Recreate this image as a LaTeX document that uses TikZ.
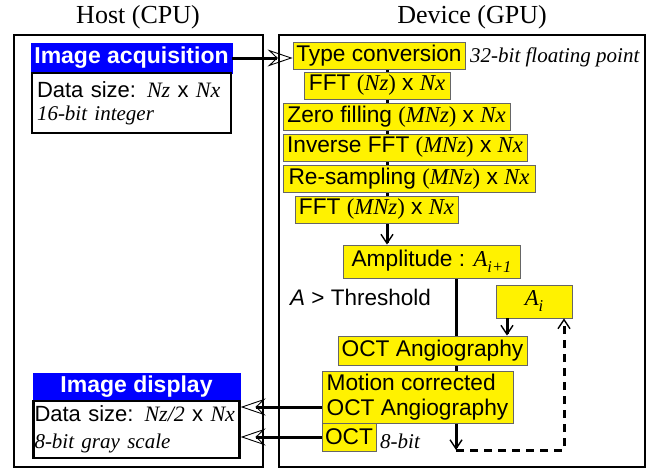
\documentclass[tikz,border=0pt]{standalone}
\usepackage{fontspec}
\setmainfont{Liberation Sans}
\newfontfamily\tnr{Liberation Serif}
\usetikzlibrary{arrows.meta,backgrounds}
\newcommand\itv[1]{{\tnr\itshape #1}}
\newcommand\idx[1]{\raisebox{-6pt}{\fontsize{16.5}{17}\selectfont\itv{#1}}}
\newcommand\notefont{\fontsize{21}{23}\selectfont\tnr\itshape}

\begin{document}
\begin{tikzpicture}[
                x=1pt, y=-1pt,
                frame/.style={draw, line width=2pt},
                proc/.style={
                  draw=black!60,
                  fill=yellow,
                  line width=0.9pt,
                  inner sep=2pt,
                  font=\fontsize{22.7}{25}\selectfont,
                },
                head/.style={
                  fill=blue,
                  draw=blue,
                  text=white,
                  font=\fontsize{23}{25}\selectfont\bfseries,
                },
                info/.style={
                  draw,
                  fill=white,
                  line width=2.4pt,
                  align=left,
                  font=\fontsize{22}{24}\selectfont,
                },
                note/.style={inner sep=1pt, font=\notefont},
                title/.style={font=\fontsize{26}{28}\selectfont\tnr},
                flow/.style={line width=3pt},
                >={Straight Barb[length=9pt,width=12pt,line width=1.4pt]},
                big/.tip={Stealth[open,length=25pt,width=17pt,inset=9pt,line width=0.9pt]},
              ]
              \useasboundingbox (0,0) rectangle (647,469);
              % host side
              \node[title] (host) at (138,17) {Host (CPU)};
              \node[title] (dev) at (472,17) {Device (GPU)};
              \node[frame, minimum width=249pt, minimum height=432pt] (hostbox) at (138.5,251) {};
              \node[frame, minimum width=366pt, minimum height=432pt] (devbox) at (462,251) {};
              \node[head, minimum width=201pt, minimum height=30pt] (acqhead) at (131.5,58) {Image acquisition};
              \node[info, text width=189pt, inner xsep=5pt, minimum height=60pt] (acqbody) at (131.5,103)
                {Data size: \itv{Nz} x \itv{Nx}\\[-1pt] {\notefont 16-bit integer}};
              \node[head, minimum width=207pt, minimum height=28pt] (disphead) at (136.5,387) {Image display};
              \node[info, text width=204pt, inner xsep=1pt, minimum height=57pt] (dispbody) at (136.5,429.5)
                {Data size: \itv{Nz/2} x \itv{Nx}\\[3pt] {\notefont 8-bit gray scale}};
              % device side
              \node[proc, minimum width=172pt, minimum height=27pt] (conv) at (379,55.5) {Type conversion};
              \node[note, anchor=west] (float) at (469,57) {32-bit floating point};
              \node[proc, minimum width=146pt, minimum height=27pt] (fftnz) at (377,85.5)
                {FFT {\tnr(}\itv{Nz}{\tnr)} x \itv{Nx}};
              \node[proc, minimum width=227pt, minimum height=27pt] (zero) at (396.5,116.5)
                {Zero filling {\tnr(}\itv{MNz}{\tnr)} x \itv{Nx}};
              \node[proc, minimum width=244pt, minimum height=27pt] (ifft) at (405,147.5)
                {Inverse FFT {\tnr(}\itv{MNz}{\tnr)} x \itv{Nx}};
              \node[proc, minimum width=252pt, minimum height=27pt] (resamp) at (409,178.5)
                {Re-sampling {\tnr(}\itv{MNz}{\tnr)} x \itv{Nx}};
              \node[proc, minimum width=163pt, minimum height=27pt] (fftmnz) at (376.5,209.5)
                {FFT {\tnr(}\itv{MNz}{\tnr)} x \itv{Nx}};
              \node[proc, minimum width=177pt, minimum height=33pt] (ampl) at (431.5,261.5)
                {Amplitude : \itv{A}\idx{i+1}};
              \node[anchor=west, inner sep=1pt, font=\fontsize{22.5}{24}\selectfont] (thr) at (289,297)
                {\textit{A} > Threshold};
              \node[proc, minimum width=76pt, minimum height=33pt] (ai) at (534,301.5) {\itv{A}\idx{i}};
              \node[proc, minimum width=189pt, minimum height=29pt] (angio) at (432.5,350.5) {OCT Angiography};
              \node[proc, minimum width=191pt, minimum height=52pt, align=left] (motion) at (417.5,397)
                {Motion corrected\\OCT Angiography};
              \node[proc, minimum width=54pt, minimum height=28pt] (oct) at (349,437) {OCT};
              \node[note, anchor=west] (bits) at (379,441) {8-bit};
              % connectors
              \coordinate (trunk) at (387,0);
              \coordinate (col) at (456,0);
              \coordinate (aiarr) at (507,0);
              \coordinate (bend) at (456,450);
              \coordinate (ret) at (564,450);
              \begin{scope}[on background layer]
                \draw[flow,->] (conv -| trunk) -- (ampl.north -| trunk);
                \draw[flow,->] (ampl.south -| col) -- (bend);
              \end{scope}
              \draw[flow,->] (ai.south -| aiarr) -- (angio.north -| aiarr);
              \draw[flow,dash pattern=on 8pt off 6pt,->] (bend) -- (ret) -- (ai.south -| ret);
              \draw[flow,-big] (acqhead.east) -- (acqhead.east -| conv.west);
              \draw[flow,-big] (motion.west |- 0,407) -- (dispbody.east |- 0,407);
              \draw[flow,-big] (oct.west) -- (oct.west -| dispbody.east);
              \end{tikzpicture}
\end{document}
